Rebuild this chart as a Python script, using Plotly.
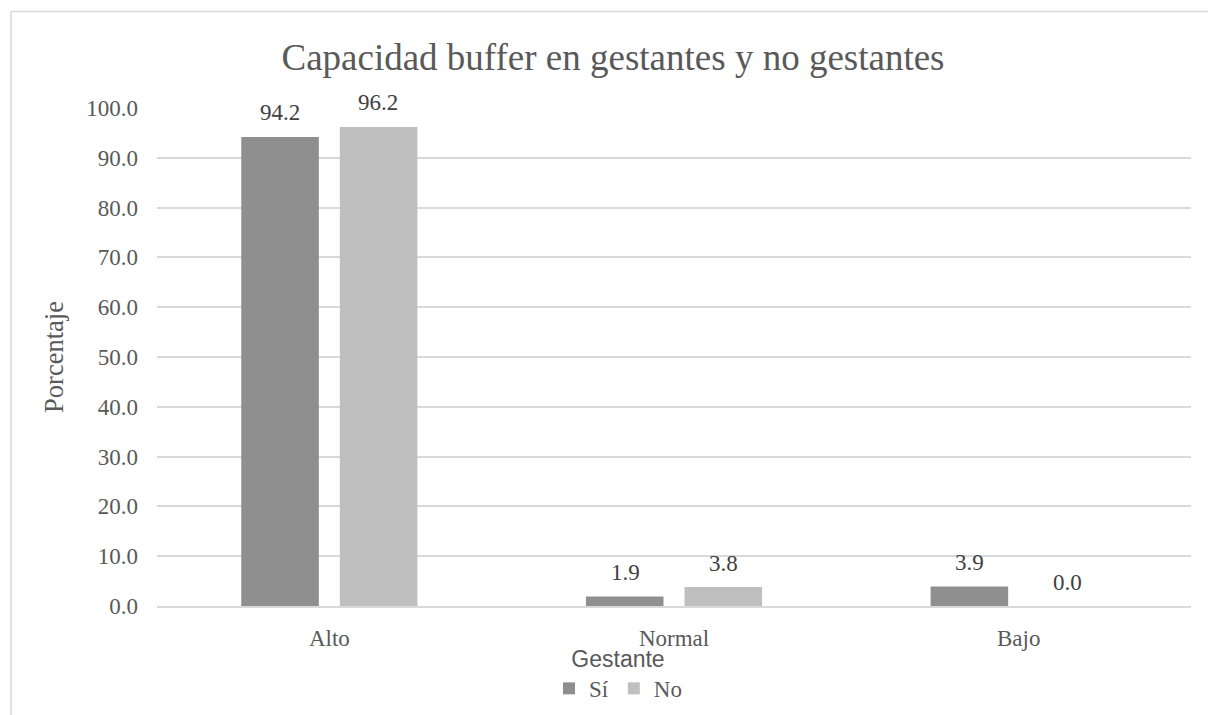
import plotly.graph_objects as go

categories = ["Alto", "Normal", "Bajo"]
series_names = ["Sí", "No"]
si_values = [94.2, 1.9, 3.9]
no_values = [96.2, 3.8, 0.0]
y_ticks = [0, 10, 20, 30, 40, 50, 60, 70, 80, 90, 100]

colors = ["#8f8f8f", "#bfbfbf"]
serif = "Liberation Serif, Times New Roman, serif"
txt = "#595959"

fig = go.Figure()
for name, vals, col in zip(series_names, [si_values, no_values], colors):
    fig.add_trace(go.Bar(x=categories, y=vals, name=name, marker=dict(color=col, line=dict(width=0))))

W, H = 1208, 715
L, R, T, B = 157, 17, 108, 109
pw = W - L - R
ph = H - T - B

annotations = []
for i, vals in enumerate([si_values, no_values]):
    shift = -49 if i == 0 else 49
    for c, v in zip(categories, vals):
        annotations.append(dict(x=c, y=v, xref="x", yref="y", text=f"{v:.1f}", showarrow=False,
                                xshift=shift, yshift=24, yanchor="middle",
                                font=dict(family=serif, size=23, color="#404040")))

def px_x(p):
    return (p - L) / pw

def px_y(p):
    return (H - B - p) / ph

fig.update_layout(
    width=W, height=H,
    margin=dict(l=L, r=R, t=T, b=B, autoexpand=False),
    plot_bgcolor="white", paper_bgcolor="white",
    barmode="group", bargap=0.428, bargroupgap=0.213,
    title=dict(text="Capacidad buffer en gestantes y no gestantes", x=613 / W, xanchor="center",
               y=1 - 57 / H, yanchor="middle", yref="container",
               font=dict(family=serif, size=37, color=txt)),
    yaxis=dict(range=[0, 100], tickvals=y_ticks, ticktext=[f"{t:.1f}" for t in y_ticks],
               showgrid=True, gridcolor="#d9d9d9", gridwidth=1.5, zeroline=False,
               tickfont=dict(family=serif, size=23, color=txt), ticklabelstandoff=18,
               title=dict(text="Porcentaje", font=dict(family=serif, size=26.5, color=txt), standoff=14)),
    xaxis=dict(showline=True, linecolor="#d9d9d9", linewidth=1.5, showgrid=False,
               tickfont=dict(family=serif, size=23, color=txt), ticklabelstandoff=11),
    legend=dict(orientation="h", xref="container", yref="container",
                x=618 / W, xanchor="center", y=1 - 637 / H, yanchor="top",
                title=dict(text="Gestante", side="top center",
                           font=dict(family="Liberation Sans, Arial, sans-serif", size=23, color=txt)),
                font=dict(family=serif, size=23, color=txt), itemwidth=30, tracegroupgap=0,
                bgcolor="rgba(0,0,0,0)"),
    annotations=annotations,
    shapes=[
        dict(type="line", xref="paper", yref="paper", x0=px_x(11), x1=px_x(1215), y0=px_y(11.5), y1=px_y(11.5),
             line=dict(color="#d9d9d9", width=1.5)),
        dict(type="line", xref="paper", yref="paper", x0=px_x(11), x1=px_x(11), y0=px_y(11.5), y1=px_y(720),
             line=dict(color="#d9d9d9", width=1.5)),
    ],
)

fig.write_html("out.html")
